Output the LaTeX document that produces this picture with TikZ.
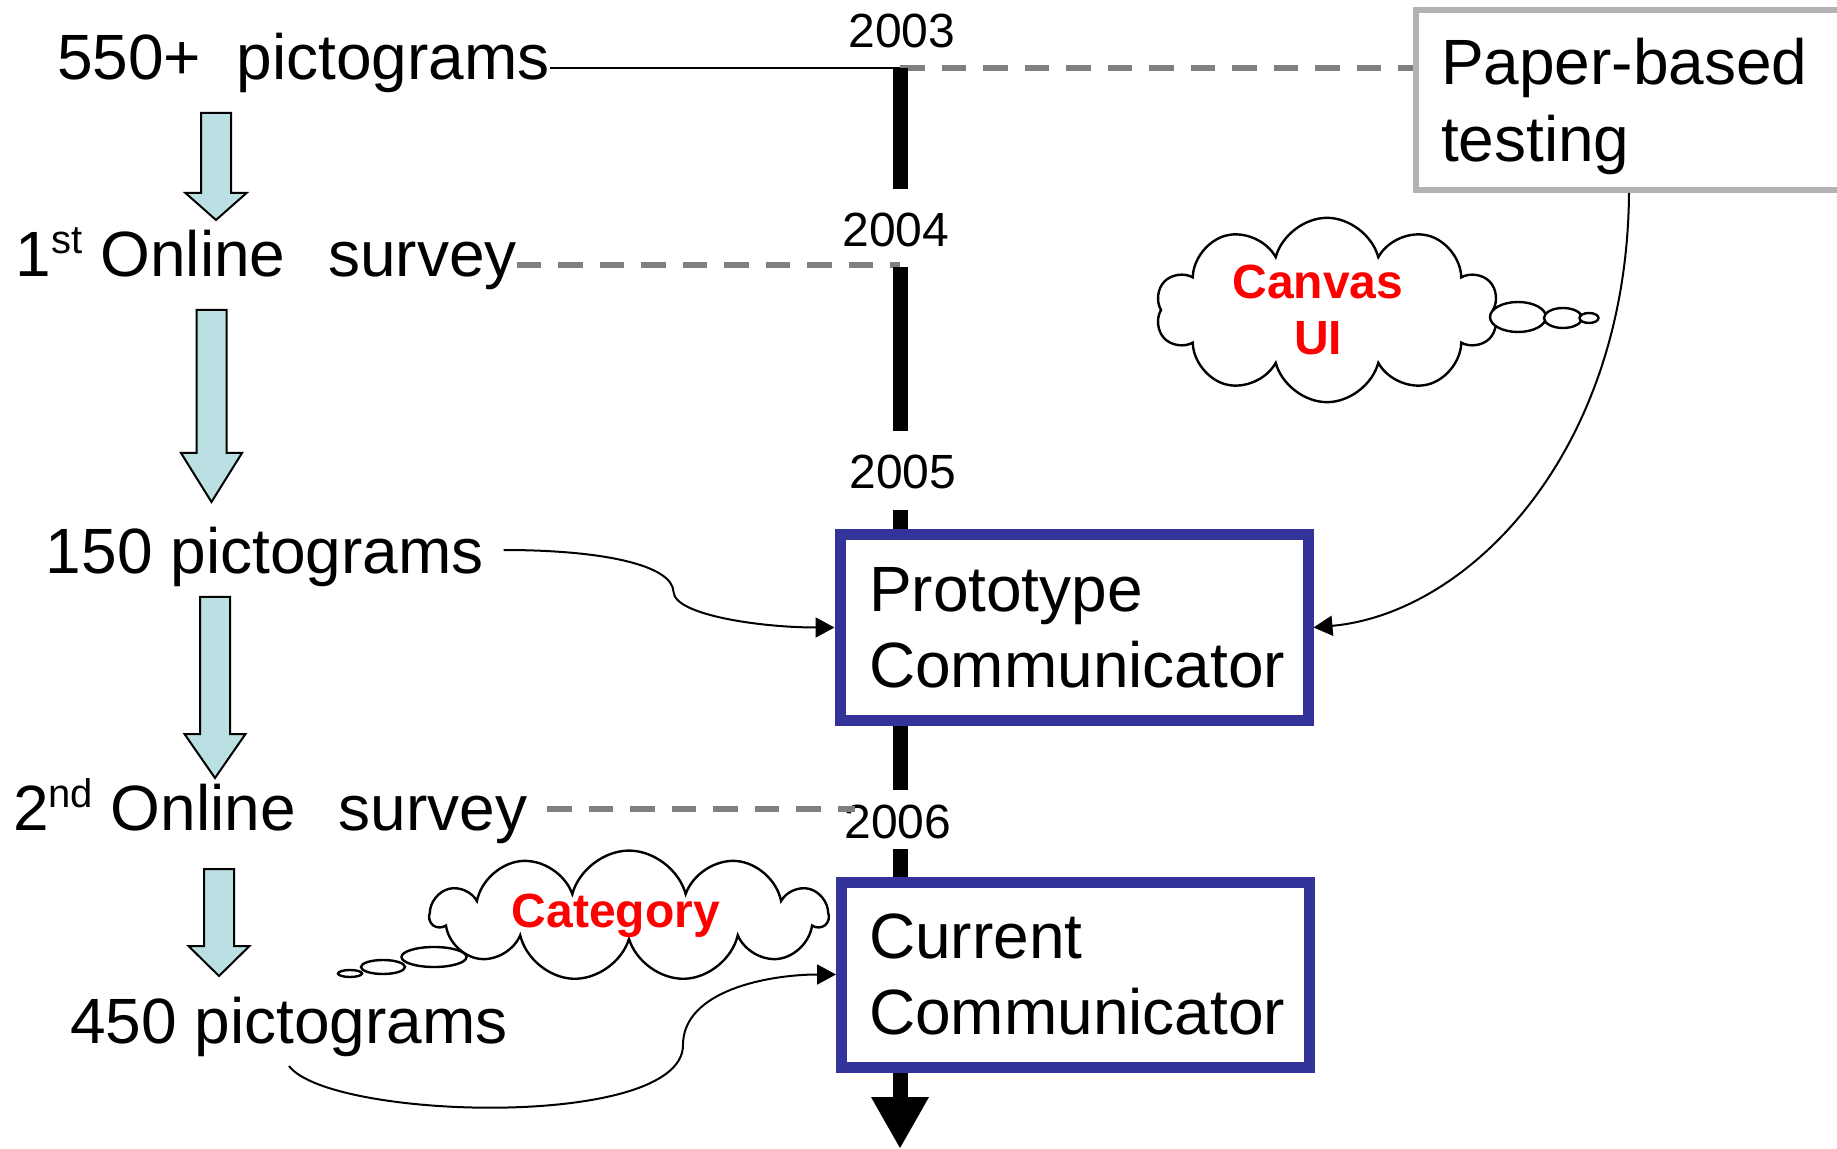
\documentclass[tikz,border=0pt]{standalone}
\usepackage{fontspec}
\setmainfont{Liberation Sans}
\usetikzlibrary{arrows.meta,shapes.symbols,calc}
\definecolor{boxblue}{HTML}{333399}
\definecolor{arrowfill}{HTML}{BAE0E3}
\definecolor{dashgray}{HTML}{808080}
\definecolor{papergray}{HTML}{B3B3B3}
\definecolor{thinkred}{HTML}{FF0000}
\newcommand\supx[1]{\raisebox{11.5pt}{\fontsize{20}{24}\selectfont #1}}
\newcommand\blockarr[4]{%
  \draw[blockarrow] (#1-15,#2) -- (#1+15,#2) -- (#1+15,#3) -- (#1+30.5,#3)
    -- (#1,#4) -- (#1-30.5,#3) -- (#1-15,#3) -- cycle;}
\begin{document}
\begin{tikzpicture}[x=0.5pt,y=-0.5pt,
  lbl/.style={anchor=base west, inner sep=0pt, outer sep=0pt, font=\fontsize{32}{38}\selectfont},
  yr/.style={anchor=base, inner sep=0pt, outer sep=0pt, font=\fontsize{24}{28}\selectfont},
  commbox/.style={draw=boxblue, line width=5.5pt, minimum width=234pt, minimum height=92.5pt,
    inner sep=0pt, align=left, font=\fontsize{32}{38}\selectfont},
  paperbox/.style={draw=papergray, line width=3pt, minimum width=213pt, minimum height=90pt,
    text width=188pt, inner sep=0pt, align=left, font=\fontsize{32}{38.5}\selectfont},
  timeline/.style={line width=7.5pt},
  graydash/.style={draw=dashgray, line width=3pt, dash pattern=on 12.25pt off 8.5pt},
  thinline/.style={line width=1pt},
  link/.style={line width=1pt, -{Triangle[length=9.5pt,width=10pt]}},
  think/.style={cloud, cloud puffs=10, cloud ignores aspect, draw, line width=1.2pt, fill=white,
    inner sep=0pt, align=center, text=thinkred, font=\bfseries\fontsize{24}{28}\selectfont},
  bubble/.style={draw, line width=1.2pt, fill=white},
  blockarrow/.style={draw, line width=1pt, fill=arrowfill, line join=miter}]
\useasboundingbox (0,0) rectangle (1837,1149);

% left column labels
\node[lbl] (p550) at (57,80) {550+ \ pictograms};
\node[lbl] (s1) at (16,277) {1\supx{st} Online\hspace{21.5pt}survey};
\node[lbl] (p150) at (46,574) {150 pictograms};
\node[lbl] (s2) at (13,830) {2\supx{nd} Online\hspace{21.5pt}survey};
\node[lbl] (p450) at (70,1043) {450 pictograms};

% block arrows
\blockarr{216}{113}{193}{220}
\blockarr{211.5}{310}{453}{502}
\blockarr{215}{597}{734}{778}
\blockarr{219}{869}{946}{976}

% years
\node[yr] (y2003) at (902,48) {2003};
\node[yr, text height=29pt, text depth=10pt] (y2004) at (896,247) {2004};
\node[yr, text height=29pt, text depth=10.5pt] (y2005) at (903,489) {2005};
\node[yr, text height=24pt, text depth=5.5pt] (y2006) at (898,838) {2006};

% boxes
\node[commbox, text width=205pt] (proto) at (1074,627.5) {Prototype\\Communicator};
\node[commbox, text width=206.5pt] (current) at (1075.5,974.5) {Current\\Communicator};
\node[paperbox] (paper) at (1629,100) {\rule{0pt}{29.5pt}Paper-based\\testing};

% coordinates on the timeline
\coordinate (j2003) at (900,68);
\coordinate (d1) at (900,265);
\coordinate (d2) at (855,809);
\coordinate (tend) at (900,1149);

% dashed connectors
\draw[graydash] (j2003) -- (paper.west |- j2003);
\draw[graydash] (s1.base east |- d1) -- (d1);
\draw[graydash] ($(s2.base east |- d2)+(20,0)$) -- (d2);

% thin line from 550+
\draw[thinline] (p550.base east |- j2003) -- (j2003);

% timeline
\draw[timeline] (j2003) -- (y2004.north -| j2003);
\draw[timeline] (y2004.south -| j2003) -- (y2005.north -| j2003);
\draw[timeline] (y2005.south -| j2003) -- (proto.north -| j2003);
\draw[timeline] (proto.south -| j2003) -- (y2006.north -| j2003);
\draw[timeline] (y2006.south -| j2003) -- (current.north -| j2003);
\draw[timeline, -{Triangle[length=26pt,width=27pt]}] (current.south -| j2003) -- (tend);

% clouds
\node[think, minimum width=171pt, minimum height=92pt] (canvas) at (1327,310) {Canvas\kern9pt\\UI\kern9pt};
\draw[bubble] (1518,317) ellipse [x radius=14pt, y radius=7.5pt];
\draw[bubble] (1563,318) ellipse [x radius=9.5pt, y radius=5pt];
\draw[bubble] (1589,318) ellipse [x radius=4.75pt, y radius=2.5pt];

\node[think, cloud puffs=11, minimum width=198pt, minimum height=61pt] (category) at (629,916) {Category\kern13pt};
\draw[bubble] (434,957) ellipse [x radius=16.25pt, y radius=5pt];
\draw[bubble] (383,967) ellipse [x radius=11pt, y radius=3.5pt];
\draw[bubble] (350,973.5) ellipse [x radius=6pt, y radius=1.75pt];

% curved links
\draw[link] ($(p150.base east)+(20,-24)$) .. controls +(99,0) and +(-1,-27) .. ++(170,42)
  .. controls +(1,23) and +(-74,0) .. (proto.west);
\draw[link] ($(p450.base west)+(219,23)$) .. controls +(41,54) and +(0,85) .. ++(394,-21)
  .. controls +(0,-55) and +(-66,0) .. (current.west);
\draw[link] (paper.south) .. controls +(-2,259) and +(156,-14) .. (proto.east);
\end{tikzpicture}
\end{document}
